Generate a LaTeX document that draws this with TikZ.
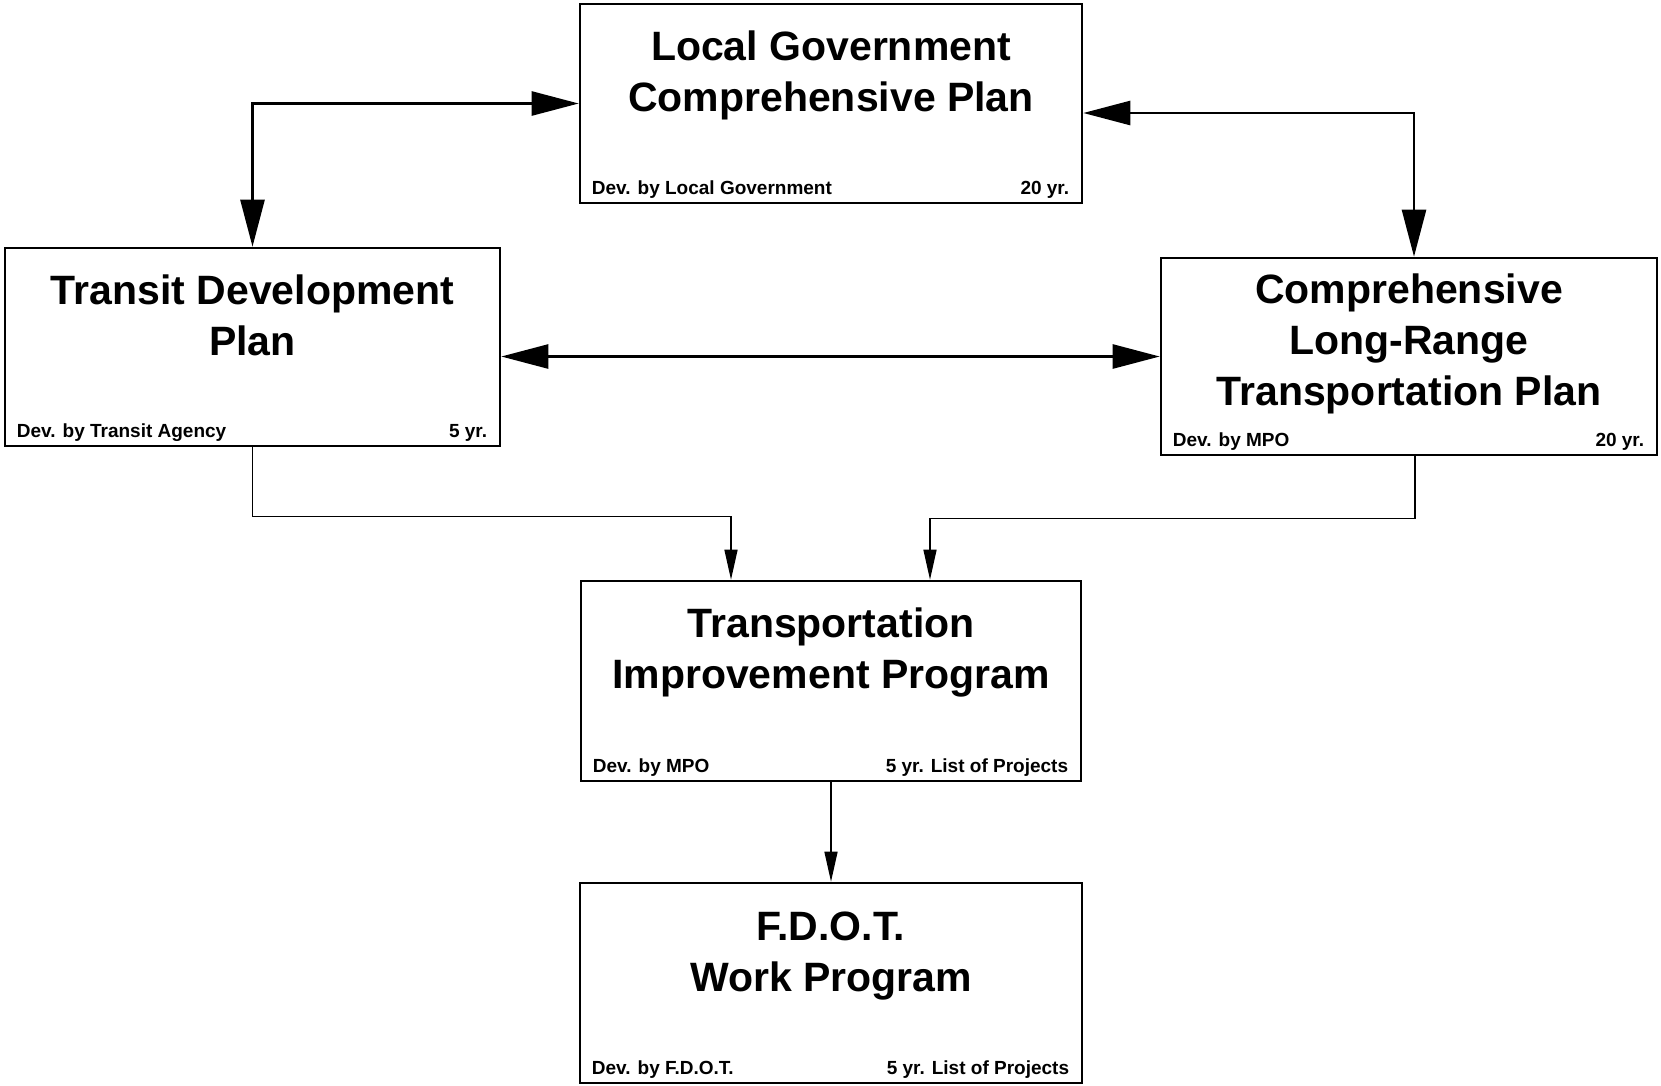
\documentclass[tikz,border=0pt]{standalone}
\usepackage{fontspec}
\setmainfont{Liberation Sans}
\usetikzlibrary{arrows.meta, positioning}

\begin{document}
\begin{tikzpicture}[x=1pt, y=-1pt,
        plan/.style    = {draw, line width=2.6pt, rectangle, minimum width=502pt, minimum height=199pt, inner sep=0pt},
        heading/.style = {align=center, font=\fontsize{41}{51}\selectfont\bfseries, inner sep=0pt},
        devby/.style   = {anchor=base west, font=\fontsize{19}{23}\selectfont\bfseries, inner sep=0pt},
        term/.style    = {anchor=base east, font=\fontsize{19}{23}\selectfont\bfseries, inner sep=0pt},
        link/.style    = {line width=2.6pt, {Triangle[length=47pt,width=24pt]}-{Triangle[length=47pt,width=24pt]}},
        feed/.style    = {line width=1.4pt, -{Triangle[length=30pt,width=13pt]}}]

    \useasboundingbox (0,0) rectangle (1661,1085);

    % the five plans
    \node[plan] (lg) at (831,103.5) {};
    \node[plan, minimum width=495pt, minimum height=198pt] (tdp) at (252.5,347) {};
    \node[plan, minimum width=496pt, minimum height=197pt] (lrtp) at (1409,356.5) {};
    \node[plan, minimum width=500pt, minimum height=200pt] (tip) at (831,681) {};
    \node[plan, minimum height=200pt] (fdot) at (831,983) {};

    % titles, placed inside their boxes
    \node[heading] (lgname)   at ([yshift=28pt]lg.center)   {Local Government\\Comprehensive Plan};
    \node[heading] (tdpname)  at ([yshift=31.5pt]tdp.center) {Transit Development\\Plan};
    \node[heading] (lrtpname) at ([yshift=12.5pt]lrtp.center) {Comprehensive\\Long-Range\\Transportation Plan};
    \node[heading] (tipname)  at ([yshift=29pt]tip.center) {Transportation\\Improvement Program};
    \node[heading] (fdotname) at ([yshift=26.5pt]fdot.center) {F.D.O.T.\\Work Program};

    % who develops it, and for how long
    \foreach \p/\who/\yrs in {lg/Local Government/20 yr., tdp/Transit Agency/5 yr., lrtp/MPO/20 yr., tip/MPO/5 yr. List of Projects, fdot/F.D.O.T./5 yr. List of Projects} {
        \node[devby] (\p-by)   at ([xshift=13pt,yshift=10pt]\p.south west) {Dev. by \who};
        \node[term]  (\p-term) at ([xshift=-14pt,yshift=10pt]\p.south east) {\yrs};
    }

    % two-way links between the long-range plans
    \draw[link] (tdp.north) |- (lg.west);
    \draw[link] ([xshift=5pt]lrtp.north) |- ([yshift=-9.5pt]lg.east);
    \draw[link] (lrtp.west) -- (lrtp.west -| tdp.east);

    % feeds down to the programs
    \coordinate (tipin1) at ([xshift=-100pt]tip.north);
    \coordinate (tipin2) at ([xshift=99pt]tip.north);
    \draw[feed] (tdp.south) -- ++(0,69) -| (tipin1);
    \draw[feed] ([xshift=6pt]lrtp.south) -- ++(0,62) -| (tipin2);
    \draw[feed] (tip.south) -- (fdot.north);

\end{tikzpicture}
\end{document}
